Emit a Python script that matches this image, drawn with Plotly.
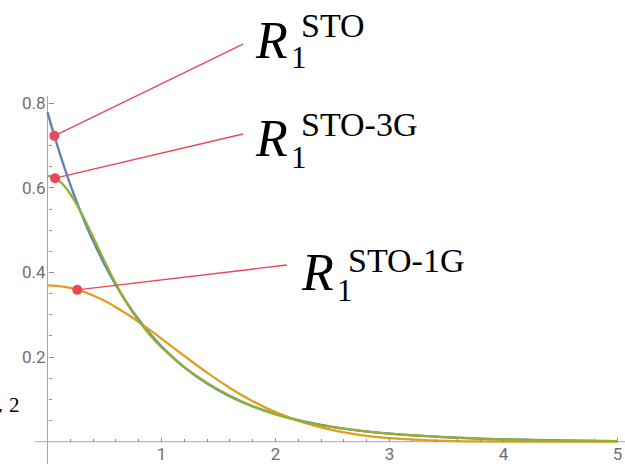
import plotly.graph_objects as go

# ---------------- data ----------------
r = [0.0, 0.05, 0.1, 0.15, 0.2, 0.25, 0.3, 0.35, 0.4, 0.5, 0.6, 0.7, 0.8, 0.9,
     1.0, 1.2, 1.4, 1.6, 1.8, 2.0, 2.25, 2.5, 2.75, 3.0, 3.5, 4.0, 4.5, 5.0]
sto = [0.7791, 0.7323, 0.6883, 0.6469, 0.6080, 0.5714, 0.5371, 0.5048, 0.4745,
       0.4191, 0.3702, 0.3271, 0.2889, 0.2552, 0.2255, 0.1759, 0.1373, 0.1071,
       0.0836, 0.0652, 0.0478, 0.0351, 0.0257, 0.0189, 0.0102, 0.0055, 0.0029, 0.0016]
sto1g = [0.3696, 0.3692, 0.3680, 0.3661, 0.3635, 0.3601, 0.3560, 0.3512, 0.3457,
         0.3330, 0.3181, 0.3013, 0.2831, 0.2637, 0.2437, 0.2028, 0.1633, 0.1272,
         0.0958, 0.0698, 0.0449, 0.0273, 0.0158, 0.0087, 0.0022, 0.0005, 0.0001, 0.0000]
sto3g = [0.6283, 0.6254, 0.6171, 0.6037, 0.5856, 0.5638, 0.5389, 0.5119, 0.4837,
         0.4268, 0.3732, 0.3258, 0.2855, 0.2517, 0.2230, 0.1765, 0.1391, 0.1085,
         0.0838, 0.0646, 0.0469, 0.0345, 0.0257, 0.0192, 0.0107, 0.0056, 0.0027, 0.0012]

# callout points and leader-line ends (data coords)
callout_names = ["STO", "STO-3G", "STO-1G"]
callout_r = [0.06, 0.066, 0.261]
callout_y = [0.723, 0.623, 0.359]
leader_r = [1.715, 1.715, 2.10]
leader_y = [0.940, 0.7275, 0.4177]

x_major = [1, 2, 3, 4, 5]
x_major_text = ["1", "2", "3", "4", "5"]
x_minor = [0.2 * i for i in range(1, 25) if i % 5]
y_major = [0.2, 0.4, 0.6, 0.8]
y_major_text = ["0.2", "0.4", "0.6", "0.8"]
y_minor = [0.05 * i for i in range(1, 16) if i % 4]

# ---------------- styling ----------------
W, H = 625, 464
X_RANGE = [-0.4167, 5.0658]
Y_RANGE = [-0.0527, 1.0442]
BLUE, ORANGE, GREEN, RED = "#5E81B5", "#E19C24", "#8FB032", "#E8485A"
AX_GRAY = "#a6a6a6"
TICK_GRAY = "#8c8c8c"

fig = go.Figure()

for ys, col in [(sto, BLUE), (sto1g, ORANGE), (sto3g, GREEN)]:
    fig.add_trace(go.Scatter(x=r, y=ys, mode="lines", line=dict(color=col, width=2.3, shape="spline"),
                             hoverinfo="skip", showlegend=False))

for i in range(3):
    fig.add_trace(go.Scatter(x=[callout_r[i], leader_r[i]], y=[callout_y[i], leader_y[i]],
                             mode="lines", line=dict(color=RED, width=1.4),
                             hoverinfo="skip", showlegend=False))
fig.add_trace(go.Scatter(x=callout_r, y=callout_y, mode="markers",
                         marker=dict(color=RED, size=10, line=dict(width=0)),
                         hoverinfo="skip", showlegend=False, cliponaxis=False))

# axis lines (Mathematica style, crossing at origin)
fig.add_shape(type="line", x0=-0.11, x1=5.07, y0=0, y1=0, line=dict(color=AX_GRAY, width=1), layer="below")
fig.add_shape(type="line", x0=0, x1=0, y0=-0.06, y1=0.817, line=dict(color=AX_GRAY, width=1), layer="below")

xpos = (0 - Y_RANGE[0]) / (Y_RANGE[1] - Y_RANGE[0])
ypos = (0 - X_RANGE[0]) / (X_RANGE[1] - X_RANGE[0])
tickfont = dict(family="Roboto, Open Sans, sans-serif", size=17, color="#6e6e6e")

fig.update_layout(
    width=W, height=H, margin=dict(l=0, r=0, t=0, b=0),
    paper_bgcolor="white", plot_bgcolor="white",
    xaxis=dict(range=X_RANGE, anchor="free", position=xpos, showline=False, showgrid=False,
               zeroline=False, tickmode="array", tickvals=x_major, ticktext=x_major_text,
               ticks="inside", ticklen=4, tickcolor=TICK_GRAY, tickwidth=1, tickfont=tickfont,
               minor=dict(tickmode="array", tickvals=x_minor, ticks="inside", ticklen=2.5,
                          tickcolor=TICK_GRAY, tickwidth=1, showgrid=False)),
    yaxis=dict(range=Y_RANGE, anchor="free", position=ypos, showline=False, showgrid=False,
               zeroline=False, tickmode="array", tickvals=y_major, ticktext=y_major_text,
               ticks="inside", ticklen=5, tickcolor=TICK_GRAY, tickwidth=1, tickfont=tickfont,
               ticklabelstandoff=2,
               minor=dict(tickmode="array", tickvals=y_minor, ticks="inside", ticklen=3,
                          tickcolor=TICK_GRAY, tickwidth=1, showgrid=False)),
)

SERIF = "Liberation Serif, Times New Roman, serif"

def label(px, py, text, size):
    fig.add_annotation(x=px / W, y=1 - py / H, xref="paper", yref="paper", text=text,
                       showarrow=False, xanchor="left", yanchor="middle",
                       font=dict(family=SERIF, size=size, color="black"))

# (R left, R center y, sup left, sup center y, sub left, sub center y)
label_pos = [(253, 40, 299, 26, 289, 57.5),
             (253, 139, 299, 125, 289, 157.5),
             (299, 272.5, 346, 260, 335, 290)]
for name, (rx, ry, spx, spy, sbx, sby) in zip(callout_names, label_pos):
    label(rx, ry, "<i>R</i>", 52)
    label(spx, spy, name, 34)
    label(sbx, sby, "1", 31)

# partly clipped axis annotation at the far left
label(-12, 412, "<i>r</i>", 30)
label(7, 405, "2", 21)

fig.write_html("out.html", post_script="document.body.style.margin='0';",
               config={"displayModeBar": False})
